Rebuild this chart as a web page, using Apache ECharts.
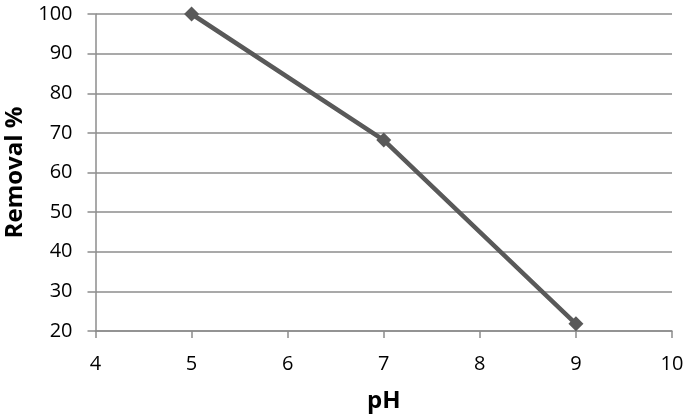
<!DOCTYPE html>
<html>
<head>
<meta charset="utf-8">
<script src="https://cdn.jsdelivr.net/npm/echarts@6/dist/echarts.min.js"></script>
<style>
  html, body { margin: 0; padding: 0; background: #fff; }
  #chart { width: 685px; height: 417px; }
</style>
</head>
<body>
<div id="chart"></div>
<script>
// pH vs removal
const phValues = [5, 7, 9];
const removal = [100, 68.2, 21.8];

const chart = echarts.init(document.getElementById('chart'));
const gray = '#8c8c8c';
chart.setOption({
  animation: false,
  grid: { left: 95.5, right: 13, top: 14, bottom: 86, outerBoundsMode: 'none' },
  xAxis: {
    type: 'value',
    min: 4, max: 10, interval: 1,
    name: 'pH',
    nameLocation: 'middle',
    nameGap: 58,
    nameTextStyle: { fontFamily: 'Open Sans', fontWeight: 'bold', fontSize: 24, color: '#000' },
    axisLine: { show: true, lineStyle: { color: gray, width: 1.5 } },
    axisTick: { show: true, length: 7, lineStyle: { color: gray, width: 1.5 } },
    axisLabel: { fontFamily: 'Open Sans', fontSize: 20, color: '#000', margin: 23 },
    splitLine: { show: false }
  },
  yAxis: {
    type: 'value',
    min: 20, max: 100, interval: 10,
    name: 'Removal %',
    nameLocation: 'middle',
    nameGap: 67,
    nameTextStyle: { fontFamily: 'Open Sans', fontWeight: 'bold', fontSize: 24, color: '#000' },
    axisLine: { show: true, lineStyle: { color: gray, width: 1.5 } },
    axisTick: { show: true, length: 8, lineStyle: { color: gray, width: 1.5 } },
    axisLabel: { fontFamily: 'Open Sans', fontSize: 20, color: '#000', margin: 23 },
    splitLine: { show: true, lineStyle: { color: gray, width: 1.5 } }
  },
  series: [{
    type: 'line',
    data: phValues.map((x, i) => [x, removal[i]]),
    symbol: 'diamond',
    symbolSize: 15,
    lineStyle: { color: '#595959', width: 4.5 },
    itemStyle: { color: '#595959' }
  }]
});
</script>
</body>
</html>
